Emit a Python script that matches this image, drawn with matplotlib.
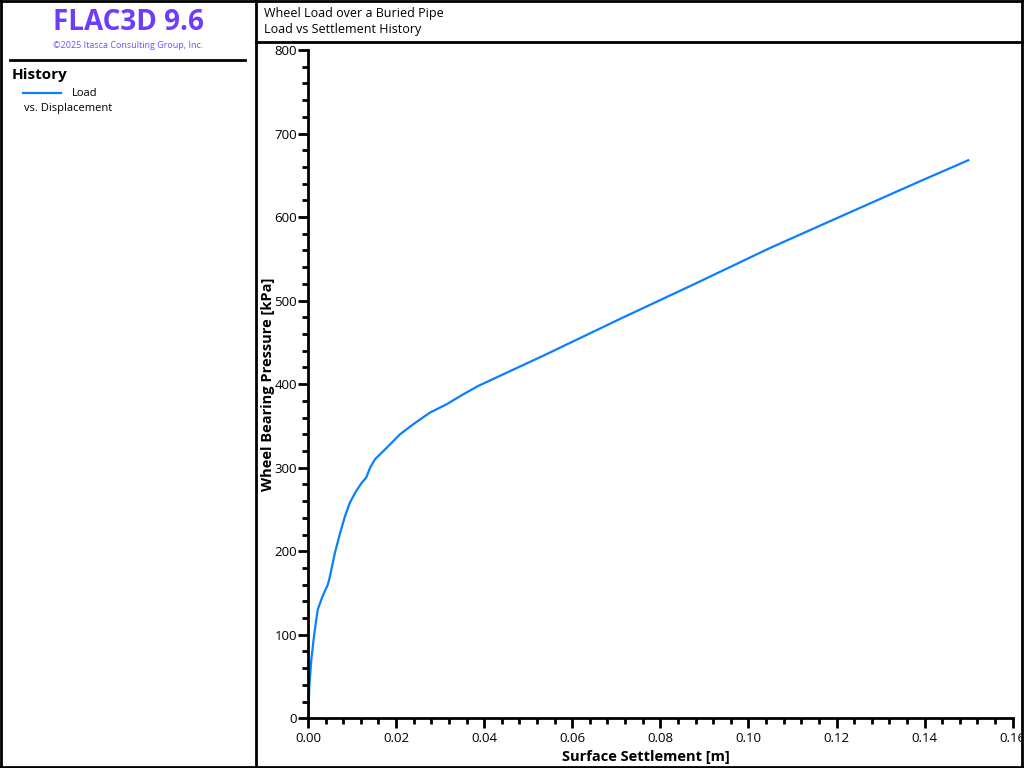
import matplotlib
matplotlib.use("Agg")
import matplotlib.pyplot as plt
from matplotlib.lines import Line2D
from matplotlib.patches import Rectangle
from matplotlib.ticker import MultipleLocator, FormatStrFormatter

plt.rcParams['font.family'] = ['Open Sans', 'DejaVu Sans']

# Data: surface settlement [m] vs wheel bearing pressure [kPa]
settlement = [0.0, 0.00007, 0.0003, 0.00075, 0.0014, 0.0022, 0.0033, 0.0045, 0.0049,
              0.0061, 0.0073, 0.0084, 0.0095, 0.0107, 0.0122, 0.0132, 0.0141, 0.0152,
              0.0179, 0.0209, 0.0239, 0.0277, 0.0315, 0.0353, 0.0387, 0.0538, 0.0708,
              0.0878, 0.1049, 0.1219, 0.1390, 0.1499]
pressure = [0, 4, 38, 70, 100, 130, 146, 160, 168,
            198, 222, 242, 258, 270, 282, 288, 300, 310,
            324, 340, 352, 366, 376, 388, 398, 435, 478,
            520, 563, 603, 643, 668]

title_lines = ["Wheel Load over a Buried Pipe", "Load vs Settlement History"]
xlabel = "Surface Settlement [m]"
ylabel = "Wheel Bearing Pressure [kPa]"
legend_label = "Load"
legend_sub = "vs. Displacement"

W, H = 1024, 768
fig = plt.figure(figsize=(W / 100, H / 100), dpi=100)

def fx(px):
    return px / W

def fy(py):
    return 1 - py / H

ax = fig.add_axes([fx(308), fy(718.3), fx(1012.7) - fx(308), fy(50) - fy(718.3)])
ax.plot(settlement, pressure, color='#0a80ff', lw=1.6)
ax.set_xlim(0, 0.16)
ax.set_ylim(0, 800)
ax.xaxis.set_major_locator(MultipleLocator(0.02))
ax.xaxis.set_minor_locator(MultipleLocator(0.004))
ax.yaxis.set_major_locator(MultipleLocator(100))
ax.yaxis.set_minor_locator(MultipleLocator(20))
ax.xaxis.set_major_formatter(FormatStrFormatter('%.2f'))
for s in ['top', 'right']:
    ax.spines[s].set_visible(False)
for s in ['left', 'bottom']:
    ax.spines[s].set_linewidth(2)
ax.tick_params(which='major', length=7, width=2, labelsize=9.5, direction='out', pad=1)
ax.tick_params(which='minor', length=4, width=2, direction='out')
ax.tick_params(axis='x', which='major', pad=3)
ax.set_xlabel(xlabel, fontsize=10.5, fontweight='bold', labelpad=1)
ax.set_ylabel(ylabel, fontsize=10.5, fontweight='bold', labelpad=2)
ax.xaxis.set_label_coords((fx(646) - fx(308)) / (fx(1012.7) - fx(308)), -0.048)
ax.yaxis.set_label_coords(-0.047, 0.5)

# Clip beyond right border
fig.patches.append(Rectangle((fx(1021), 0), 1 - fx(1021), 1, transform=fig.transFigure,
                             facecolor='white', edgecolor='none', zorder=10))

# Panel borders
def hline(x0, x1, y, lw=2):
    fig.add_artist(Line2D([fx(x0), fx(x1)], [fy(y), fy(y)], color='black', lw=lw, zorder=11))

def vline(x, y0, y1, lw=2):
    fig.add_artist(Line2D([fx(x), fx(x)], [fy(y0), fy(y1)], color='black', lw=lw, zorder=11))

hline(0, 1024, 1)
hline(0, 1024, 766.5)
vline(1, 0, 768)
vline(256, 0, 768)
vline(1021.5, 0, 768)
hline(256, 1024, 42)
hline(10, 245, 60, lw=2)

# Left panel text
fig.text(fx(128), fy(22), "FLAC3D 9.6", ha='center', va='center', fontsize=20,
         fontweight='bold', color='#6e3cff')
fig.text(fx(128), fy(45), "\u00a92025 Itasca Consulting Group, Inc.", ha='center', va='center',
         fontsize=6.5, color='#7a4cff')
fig.text(fx(12), fy(75), "History", ha='left', va='center', fontsize=11, fontweight='bold')
fig.add_artist(Line2D([fx(23), fx(61)], [fy(92.5), fy(92.5)], color='#0a80ff', lw=1.6))
fig.text(fx(72), fy(93), legend_label, ha='left', va='center', fontsize=8)
fig.text(fx(24), fy(109), legend_sub, ha='left', va='center', fontsize=8)

# Title text
fig.text(fx(264), fy(13), title_lines[0], ha='left', va='center', fontsize=9)
fig.text(fx(264), fy(30), title_lines[1], ha='left', va='center', fontsize=9)

fig.savefig("out.png", dpi=100)
